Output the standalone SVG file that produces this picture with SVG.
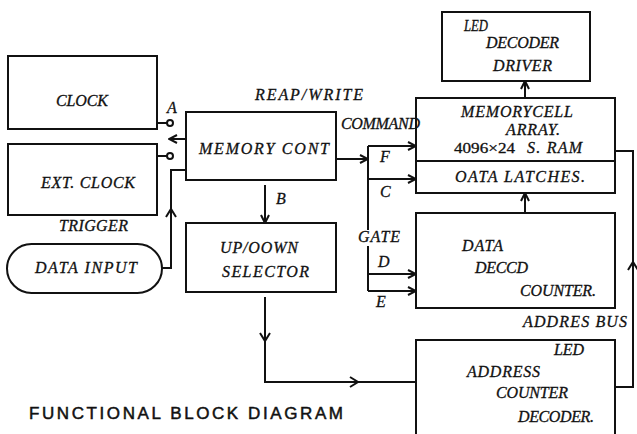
<svg xmlns="http://www.w3.org/2000/svg" width="637" height="434" viewBox="0 0 637 434">
<style>
  .box{fill:#fff;stroke:#111;stroke-width:2}
  .ln{fill:none;stroke:#111;stroke-width:2}
  .ah{fill:none;stroke:#111;stroke-width:2;stroke-linejoin:miter}
  .t{font-family:"Liberation Serif","DejaVu Serif",serif;font-style:italic;font-size:16px;fill:#111;stroke:#111;stroke-width:0.3}
  .u{font-family:"Liberation Serif","DejaVu Serif",serif;font-size:15px;fill:#111;stroke:#111;stroke-width:0.3}
  .title{font-family:"Liberation Sans",Arial,sans-serif;font-size:17px;fill:#111;stroke:#111;stroke-width:0.5}
</style>
<defs>
  <marker id="arr" viewBox="0 0 10 10" refX="9" refY="5" markerWidth="10" markerHeight="10" markerUnits="userSpaceOnUse" orient="auto">
    <path d="M1,1 L9,5 L1,9" fill="none" stroke="#111" stroke-width="2"/>
  </marker>
</defs>
<rect width="637" height="434" fill="#fff"/>

<g id="clock">
  <rect class="box" x="8" y="56" width="149" height="73"/>
  <text class="t" x="56" y="106" textLength="52" lengthAdjust="spacing">CLOCK</text>
</g>
<g id="ext-clock">
  <rect class="box" x="8" y="144" width="149" height="71"/>
  <text class="t" x="41" y="188" textLength="94" lengthAdjust="spacing">EXT. CLOCK</text>
</g>
<g id="data-input">
  <rect class="box" x="7" y="244" width="155" height="49" rx="24.5" ry="24.5"/>
  <text class="t" x="35" y="273" textLength="102" lengthAdjust="spacing">DATA INPUT</text>
</g>
<g id="memory-cont">
  <rect class="box" x="186" y="112" width="150" height="68"/>
  <text class="t" x="199" y="154" textLength="130" lengthAdjust="spacing">MEMORY CONT</text>
</g>
<g id="updown-selector">
  <rect class="box" x="186" y="223" width="150" height="69"/>
  <text class="t" x="220" y="253" textLength="78" lengthAdjust="spacing">UP/OOWN</text>
  <text class="t" x="222" y="277" textLength="87" lengthAdjust="spacing">SELECTOR</text>
</g>
<g id="led-decoder-driver">
  <rect class="box" x="442" y="12" width="148" height="69"/>
  <text class="t" x="464" y="31" textLength="24" lengthAdjust="spacingAndGlyphs">LED</text>
  <text class="t" x="486" y="48" textLength="73" lengthAdjust="spacing">DECODER</text>
  <text class="t" x="493" y="71" textLength="59" lengthAdjust="spacing">DRIVER</text>
</g>
<g id="memorycell-array">
  <rect class="box" x="416" y="98" width="199" height="95"/>
  <line class="ln" x1="416" y1="161" x2="615" y2="161"/>
  <text class="t" x="461" y="117" textLength="112" lengthAdjust="spacing">MEMORYCELL</text>
  <text class="t" x="506" y="135" textLength="54" lengthAdjust="spacing">ARRAY.</text>
  <text class="u" x="454" y="153" textLength="61" lengthAdjust="spacingAndGlyphs">4096×24</text>
  <text class="t" x="527" y="153" textLength="55" lengthAdjust="spacing">S. RAM</text>
  <text class="t" x="455" y="182" textLength="130" lengthAdjust="spacing">OATA LATCHES.</text>
</g>
<g id="data-deccd-counter">
  <rect class="box" x="416" y="213" width="199" height="95"/>
  <text class="t" x="462" y="251" textLength="41" lengthAdjust="spacing">DATA</text>
  <text class="t" x="475" y="273" textLength="53" lengthAdjust="spacing">DECCD</text>
  <text class="t" x="520" y="296" textLength="76" lengthAdjust="spacing">COUNTER.</text>
</g>
<g id="address-counter-decoder">
  <rect class="box" x="416" y="340" width="199" height="110"/>
  <text class="t" x="554" y="355" textLength="30" lengthAdjust="spacing">LED</text>
  <text class="t" x="467" y="377" textLength="73" lengthAdjust="spacing">ADDRESS</text>
  <text class="t" x="496" y="398" textLength="72" lengthAdjust="spacing">COUNTER</text>
  <text class="t" x="518" y="422" textLength="76" lengthAdjust="spacing">DECODER.</text>
</g>

<g id="connectors">
  <line class="ln" x1="157" y1="123" x2="167" y2="123"/>
  <circle cx="170" cy="123" r="3" fill="#fff" stroke="#111" stroke-width="2"/>
  <line class="ln" x1="157" y1="156" x2="167" y2="156"/>
  <circle cx="170" cy="156" r="3" fill="#fff" stroke="#111" stroke-width="2"/>
  <line class="ln" x1="186" y1="139" x2="169" y2="139" marker-end="url(#arr)"/>
  <path class="ln" d="M162,268 H171 V170 H186"/>
  <path class="ah" d="M166,217 L171,209 L176,217"/>
  <line class="ln" x1="336" y1="159" x2="368" y2="159" marker-end="url(#arr)"/>
  <path class="ln" d="M368,146 V230 M368,246 V291"/>
  <line class="ln" x1="368" y1="146" x2="416" y2="146" marker-end="url(#arr)"/>
  <line class="ln" x1="368" y1="179" x2="416" y2="179" marker-end="url(#arr)"/>
  <line class="ln" x1="368" y1="274" x2="416" y2="274" marker-end="url(#arr)"/>
  <line class="ln" x1="368" y1="291" x2="416" y2="291" marker-end="url(#arr)"/>
  <line class="ln" x1="265" y1="185" x2="265" y2="223" marker-end="url(#arr)"/>
  <path class="ln" d="M265,297 V382 H416"/>
  <path class="ah" d="M260,333 L265,341 L270,333"/>
  <path class="ah" d="M350,377 L358,382 L350,387"/>
  <line class="ln" x1="525" y1="98" x2="525" y2="81" marker-end="url(#arr)"/>
  <line class="ln" x1="525" y1="213" x2="525" y2="193" marker-end="url(#arr)"/>
  <path class="ln" d="M615,387 H633 V151 H615"/>
  <path class="ah" d="M628,270 L633,262 L638,270"/>
</g>

<g id="labels">
  <text class="t" x="167" y="113">A</text>
  <text class="t" x="255" y="100" textLength="108" lengthAdjust="spacing">REAP/WRITE</text>
  <text class="t" x="341" y="129" textLength="79" lengthAdjust="spacing">COMMAND</text>
  <text class="t" x="380" y="162">F</text>
  <text class="t" x="380" y="197">C</text>
  <text class="t" x="276" y="204">B</text>
  <text class="t" x="358" y="242" textLength="42" lengthAdjust="spacing">GATE</text>
  <text class="t" x="378" y="267">D</text>
  <text class="t" x="376" y="307">E</text>
  <text class="t" x="59" y="231" textLength="69" lengthAdjust="spacing">TRIGGER</text>
  <text class="t" x="523" y="327" textLength="104" lengthAdjust="spacing">ADDRES BUS</text>
  <text class="title" x="29" y="419" textLength="314" lengthAdjust="spacing">FUNCTIONAL BLOCK DIAGRAM</text>
</g>
</svg>
